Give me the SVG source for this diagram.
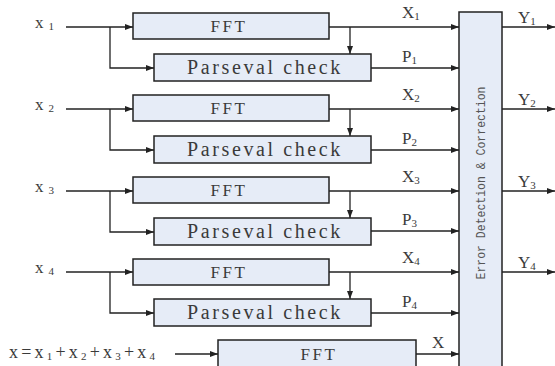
<svg xmlns="http://www.w3.org/2000/svg" width="555" height="366" viewBox="0 0 555 366">
<defs>
<style>
.box{fill:#e6ecf7;stroke:#222;stroke-width:1.5}
.ln{fill:none;stroke:#222;stroke-width:1.3}
.fft{font-size:17px;letter-spacing:2.6px}
.pc{font-size:20px;letter-spacing:2.6px}
.lab{font-size:17px}
.sub{font-size:11px}
</style>
<marker id="ar" viewBox="0 0 8 6" refX="8" refY="3" markerWidth="8" markerHeight="6" markerUnits="userSpaceOnUse" orient="auto">
<path d="M0,0 L8,3 L0,6 Z" fill="#222"/>
</marker>
</defs>
<rect width="555" height="366" fill="#fff"/>
<g id="connectors">
<path class="ln" d="M66,27 H133" marker-end="url(#ar)"/>
<path class="ln" d="M110,27 V68 H154" marker-end="url(#ar)"/>
<path class="ln" d="M329,27 H459" marker-end="url(#ar)"/>
<path class="ln" d="M350,27 V54" marker-end="url(#ar)"/>
<path class="ln" d="M371,68 H459" marker-end="url(#ar)"/>
<path class="ln" d="M502,27 H555" marker-end="url(#ar)"/>
<path class="ln" d="M66,109 H133" marker-end="url(#ar)"/>
<path class="ln" d="M110,109 V150 H154" marker-end="url(#ar)"/>
<path class="ln" d="M329,109 H459" marker-end="url(#ar)"/>
<path class="ln" d="M350,109 V136" marker-end="url(#ar)"/>
<path class="ln" d="M371,150 H459" marker-end="url(#ar)"/>
<path class="ln" d="M502,109 H555" marker-end="url(#ar)"/>
<path class="ln" d="M66,191 H133" marker-end="url(#ar)"/>
<path class="ln" d="M110,191 V232 H154" marker-end="url(#ar)"/>
<path class="ln" d="M329,191 H459" marker-end="url(#ar)"/>
<path class="ln" d="M350,191 V218" marker-end="url(#ar)"/>
<path class="ln" d="M371,231 H459" marker-end="url(#ar)"/>
<path class="ln" d="M502,191 H555" marker-end="url(#ar)"/>
<path class="ln" d="M66,272 H133" marker-end="url(#ar)"/>
<path class="ln" d="M110,272 V313 H154" marker-end="url(#ar)"/>
<path class="ln" d="M329,272 H459" marker-end="url(#ar)"/>
<path class="ln" d="M350,272 V299" marker-end="url(#ar)"/>
<path class="ln" d="M371,313 H459" marker-end="url(#ar)"/>
<path class="ln" d="M502,272 H555" marker-end="url(#ar)"/>
<path class="ln" d="M175,354 H218" marker-end="url(#ar)"/>
<path class="ln" d="M416,354 H459" marker-end="url(#ar)"/>
</g>
<g id="labels" font-family="Liberation Serif, Times New Roman, serif" fill="#3a3a3a">
<text class="lab" x="35" y="28">x<tspan class="sub" dx="5" dy="2">1</tspan></text>
<text class="lab" x="35" y="110">x<tspan class="sub" dx="5" dy="2">2</tspan></text>
<text class="lab" x="35" y="192">x<tspan class="sub" dx="5" dy="2">3</tspan></text>
<text class="lab" x="35" y="273">x<tspan class="sub" dx="5" dy="2">4</tspan></text>
<text class="lab" x="402" y="18">X<tspan class="sub" dy="2">1</tspan></text>
<text class="lab" x="402" y="100">X<tspan class="sub" dy="2">2</tspan></text>
<text class="lab" x="402" y="182">X<tspan class="sub" dy="2">3</tspan></text>
<text class="lab" x="402" y="263">X<tspan class="sub" dy="2">4</tspan></text>
<text class="lab" x="402" y="62">P<tspan class="sub" dy="2">1</tspan></text>
<text class="lab" x="402" y="144">P<tspan class="sub" dy="2">2</tspan></text>
<text class="lab" x="402" y="225">P<tspan class="sub" dy="2">3</tspan></text>
<text class="lab" x="402" y="307">P<tspan class="sub" dy="2">4</tspan></text>
<text class="lab" x="518" y="23">Y<tspan class="sub" dy="2">1</tspan></text>
<text class="lab" x="518" y="105">Y<tspan class="sub" dy="2">2</tspan></text>
<text class="lab" x="518" y="187">Y<tspan class="sub" dy="2">3</tspan></text>
<text class="lab" x="518" y="268">Y<tspan class="sub" dy="2">4</tspan></text>
<text class="lab" x="432" y="348">X</text>
<text x="9" y="358" font-size="18" letter-spacing="3.2">x=x<tspan class="sub" dy="2">1</tspan><tspan dy="-2">+x</tspan><tspan class="sub" dy="2">2</tspan><tspan dy="-2">+x</tspan><tspan class="sub" dy="2">3</tspan><tspan dy="-2">+x</tspan><tspan class="sub" dy="2">4</tspan></text>
</g>
<g font-family="Liberation Serif, Times New Roman, serif" fill="#3a3a3a" text-anchor="middle">
<g id="fft1"><rect class="box" x="133" y="13" width="196" height="26"/><text class="fft" x="229" y="32">FFT</text></g>
<g id="parseval1"><rect class="box" x="154" y="54" width="217" height="27"/><text class="pc" x="265" y="74">Parseval check</text></g>
<g id="fft2"><rect class="box" x="133" y="95" width="196" height="26"/><text class="fft" x="229" y="114">FFT</text></g>
<g id="parseval2"><rect class="box" x="154" y="136" width="217" height="27"/><text class="pc" x="265" y="156">Parseval check</text></g>
<g id="fft3"><rect class="box" x="133" y="177" width="196" height="26"/><text class="fft" x="229" y="196">FFT</text></g>
<g id="parseval3"><rect class="box" x="154" y="218" width="217" height="27"/><text class="pc" x="265" y="238">Parseval check</text></g>
<g id="fft4"><rect class="box" x="133" y="259" width="196" height="26"/><text class="fft" x="229" y="278">FFT</text></g>
<g id="parseval4"><rect class="box" x="154" y="299" width="217" height="27"/><text class="pc" x="265" y="319">Parseval check</text></g>
<g id="fft5"><rect class="box" x="218" y="340" width="198" height="40"/><text class="fft" x="319" y="360">FFT</text></g>
</g>
<g id="edc"><rect class="box" x="459" y="12" width="43" height="370"/><text font-family="Liberation Mono, DejaVu Sans Mono, monospace" font-size="13" fill="#555" transform="translate(485,183) rotate(-90)" text-anchor="middle" textLength="193" lengthAdjust="spacingAndGlyphs">Error Detection &amp; Correction</text></g>
</svg>
